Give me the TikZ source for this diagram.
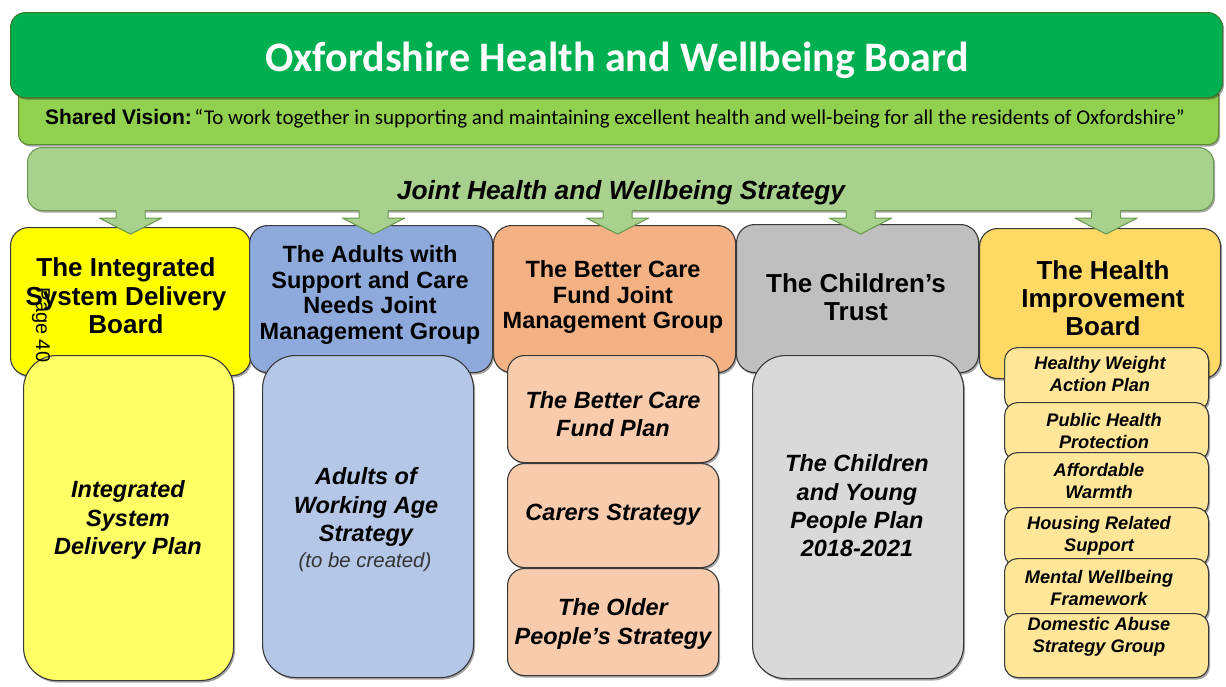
\documentclass[tikz,border=0pt]{standalone}
\usepackage{fontspec}
\setmainfont{Liberation Sans}
\newfontfamily\calibri{Carlito}
\usetikzlibrary{shadows,calc}

\definecolor{titlegreen}{HTML}{00B050}
\definecolor{titleedge}{HTML}{3B7A2E}
\definecolor{visiongreen}{HTML}{92D050}
\definecolor{visionedge}{HTML}{5E8A30}
\definecolor{stratgreen}{HTML}{A9D18E}
\definecolor{stratedge}{HTML}{6A9A50}
\definecolor{edge}{HTML}{3A3A3A}
\definecolor{isdTop}{HTML}{FFFF00}
\definecolor{isdLow}{HTML}{FFFF66}
\definecolor{ascTop}{HTML}{8EA9DB}
\definecolor{ascLow}{HTML}{B4C7E7}
\definecolor{bcfTop}{HTML}{F4B183}
\definecolor{bcfLow}{HTML}{F8CBAD}
\definecolor{ctTop}{HTML}{BFBFBF}
\definecolor{ctLow}{HTML}{D9D9D9}
\definecolor{hibTop}{HTML}{FFD966}
\definecolor{hibLow}{HTML}{FFE699}

% block arrow from the strategy band down to a board, #3 = sideways offset
\newcommand\flowarrow[3]{%
  \path[fill=stratgreen] let \p1=(#1.south), \p2=(#2.north) in
    (\x2+#3pt-14.5pt,\y1+6pt) -- (\x2+#3pt-14.5pt,\y1-7pt) -- (\x2+#3pt-31pt,\y1-7pt)
    -- (\x2+#3pt,\y1-23pt) -- (\x2+#3pt+31pt,\y1-7pt) -- (\x2+#3pt+14.5pt,\y1-7pt)
    -- (\x2+#3pt+14.5pt,\y1+6pt) -- cycle;
  \path[draw=stratedge,line width=1.1pt,line join=round] let \p1=(#1.south), \p2=(#2.north) in
    (\x2+#3pt-14.5pt,\y1+0.6pt) -- (\x2+#3pt-14.5pt,\y1-7pt) -- (\x2+#3pt-31pt,\y1-7pt)
    -- (\x2+#3pt,\y1-23pt) -- (\x2+#3pt+31pt,\y1-7pt) -- (\x2+#3pt+14.5pt,\y1-7pt)
    -- (\x2+#3pt+14.5pt,\y1+0.6pt);
}

\begin{document}
\begin{tikzpicture}[x=1pt,y=-1pt,
  softshadow/.style={drop shadow={shadow xshift=1.5pt,shadow yshift=-2pt,opacity=0.35,fill=black}},
  panel/.style={draw=edge,line width=1.1pt,rounded corners=#1,inner sep=0pt,anchor=north west,softshadow},
  hdr/.style={align=center,inner sep=0pt,font=\fontsize{26}{28.3}\selectfont\bfseries},
  hdrs/.style={align=center,inner sep=0pt,font=\fontsize{23.5}{25.8}\selectfont\bfseries},
  plan/.style={align=center,inner sep=0pt,font=\fontsize{23.5}{28.3}\selectfont\bfseries\itshape},
  subplan/.style={align=center,inner sep=0pt,font=\fontsize{18.2}{22}\selectfont\bfseries\itshape},
]
\useasboundingbox (0,0) rectangle (1226,686);
\fill[white] (0,0) rectangle (1226,686);

% board banner, shared vision and joint strategy
\node[panel=10pt,fill=visiongreen,draw=visionedge,minimum width=1200pt,minimum height=59pt] (vision) at (18,85) {};
\node[panel=15pt,fill=titlegreen,draw=titleedge,minimum width=1212pt,minimum height=85pt] (title) at (10,12) {};
\node[text=white,inner sep=0pt,font=\calibri\fontsize{42}{46}\selectfont\bfseries] (titletext) at (617,60) {Oxfordshire Health and Wellbeing Board};
\node[anchor=west,inner sep=0pt,font=\fontsize{21}{24}\selectfont] (visiontext) at (45,119)
  {\textbf{Shared Vision:}\hspace{2.5pt}{\calibri “To work together in supporting and maintaining excellent health and well-being for all the residents of Oxfordshire”}};
\node[panel=15pt,fill=stratgreen,draw=stratedge,minimum width=1186pt,minimum height=63pt] (strat) at (27,147) {};
\node[inner sep=0pt,font=\fontsize{26.3}{30}\selectfont\bfseries\itshape] (strattext) at (621,193) {Joint Health and Wellbeing Strategy};

% the five boards
\node[panel=18pt,fill=isdTop,minimum width=240pt,minimum height=148pt] (top1) at (10,227) {};
\node[panel=18pt,fill=ascTop,minimum width=243pt,minimum height=147pt] (top2) at (249,225) {};
\node[panel=18pt,fill=bcfTop,minimum width=242pt,minimum height=147pt] (top3) at (493,225) {};
\node[panel=18pt,fill=ctTop,minimum width=242pt,minimum height=148pt] (top4) at (736,224) {};
\node[panel=18pt,fill=hibTop,minimum width=241pt,minimum height=150pt] (top5) at (979,228) {};

\flowarrow{strat}{top1}{0}
\flowarrow{strat}{top2}{2.5}
\flowarrow{strat}{top3}{3}
\flowarrow{strat}{top4}{3}
\flowarrow{strat}{top5}{6}

\node[hdr] (hdr1) at (126,296) {The Integrated\\System Delivery\\Board};
\node[hdrs] (hdr2) at (370,295) {The Adults with\\Support and Care\\Needs Joint\\Management Group};
\node[hdrs] (hdr3) at (613,297) {The Better Care\\Fund Joint\\Management Group};
\node[hdr] (hdr4) at (856,297) {The Children’s\\Trust};
\node[hdr] (hdr5) at (1103,298) {The Health\\Improvement\\Board};

% plans and strategies under each board
\node[panel=33pt,fill=isdLow,minimum width=210pt,minimum height=325pt] (low1) at (23,355) {};
\node[plan] (plan1) at (128,520) {Integrated\\System\\Delivery Plan};

\node[panel=33pt,fill=ascLow,minimum width=211pt,minimum height=322pt] (low2) at (262,355) {};
\node[plan] (plan2) at (366,507) {Adults of\\Working Age\\Strategy};
\node[inner sep=0pt,font=\fontsize{20.4}{24}\selectfont\itshape,text=black!80] (plan2note) at (365,562) {(to be created)};

\node[panel=17pt,fill=bcfLow,minimum width=211pt,minimum height=107pt] (low3a) at (507,355) {};
\node[plan] (plan3a) at (613,414) {The Better Care\\Fund Plan};
\node[panel=17pt,fill=bcfLow,minimum width=211pt,minimum height=104pt] (low3b) at (507,463) {};
\node[plan] (plan3b) at (613,515) {Carers Strategy};
\node[panel=17pt,fill=bcfLow,minimum width=211pt,minimum height=107pt] (low3c) at (507,568) {};
\node[plan] (plan3c) at (613,624) {The Older\\People’s Strategy};

\node[panel=33pt,fill=ctLow,minimum width=211pt,minimum height=323pt] (low4) at (752,355) {};
\node[plan] (plan4) at (857,506) {The Children\\and Young\\People Plan\\2018-2021};

\node[panel=13pt,fill=hibLow,minimum width=204pt,minimum height=63pt] (low5a) at (1004,347) {};
\node[subplan] (plan5a) at (1100,374) {Healthy Weight\\Action Plan};
\node[panel=13pt,fill=hibLow,minimum width=204pt,minimum height=58pt] (low5b) at (1004,402) {};
\node[subplan] (plan5b) at (1104,431) {Public Health\\Protection};
\node[panel=13pt,fill=hibLow,minimum width=204pt,minimum height=63pt] (low5c) at (1004,452) {};
\node[subplan] (plan5c) at (1099,481) {Affordable\\Warmth};
\node[panel=13pt,fill=hibLow,minimum width=204pt,minimum height=59pt] (low5d) at (1004,507) {};
\node[subplan] (plan5d) at (1099,536) {Housing Related\\Support};
\node[panel=13pt,fill=hibLow,minimum width=204pt,minimum height=63pt] (low5e) at (1004,558) {};
\node[subplan] (plan5e) at (1099,588) {Mental Wellbeing\\Framework};
\node[panel=13pt,fill=hibLow,minimum width=204pt,minimum height=64pt] (low5f) at (1004,613) {};
\node[subplan] (plan5f) at (1099,637) {Domestic Abuse\\Strategy Group};

% page number stamp
\node[rotate=-90,inner sep=0pt,font=\fontsize{20}{24}\selectfont] (pagenum) at (41,325) {Page 40};
\end{tikzpicture}
\end{document}
